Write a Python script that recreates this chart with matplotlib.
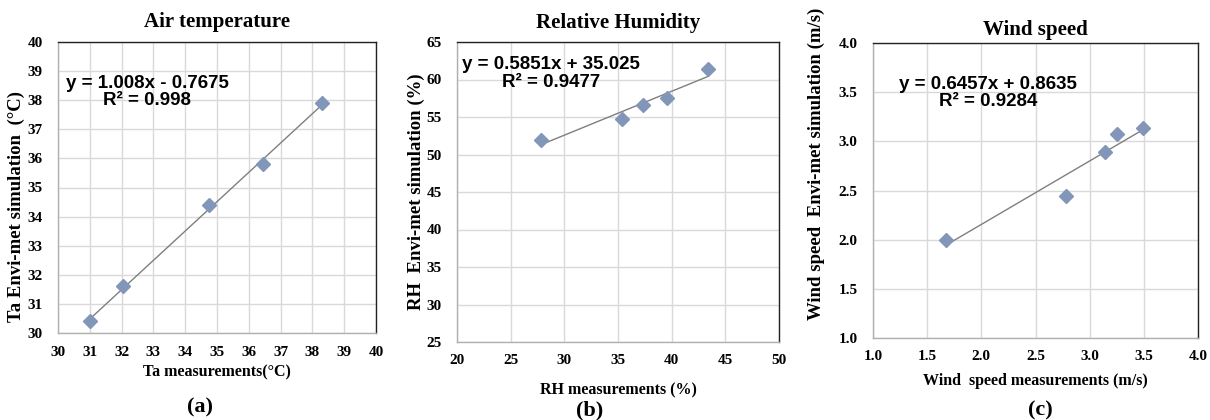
import numpy as np
import matplotlib
matplotlib.use("Agg")
import matplotlib.pyplot as plt


# ---------------------------------------------------------------------------
# Data
# ---------------------------------------------------------------------------

ta_meas = [31.0, 32.05, 34.75, 36.45, 38.3]
ta_sim = [30.4, 31.6, 34.4, 35.8, 37.9]
ta_fit = (1.008, -0.7675)

rh_meas = [27.8, 35.4, 37.3, 39.6, 43.4]
rh_sim = [51.9, 54.8, 56.6, 57.5, 61.4]
rh_fit = (0.5851, 35.025)

ws_meas = [1.67, 2.78, 3.14, 3.25, 3.49]
ws_sim = [2.0, 2.44, 2.89, 3.07, 3.14]
ws_fit = (0.6457, 0.8635)

W, H = 1210, 420
SERIF = "Liberation Serif"
SANS = "Liberation Sans"
MARKER_C = "#8196b9"
GRID_C = "#d9d9d9"


def _axes_px(fig, left, top, right, bottom):
    """Add axes from pixel box (top-left origin)."""
    return fig.add_axes([left / W, 1 - bottom / H, (right - left) / W, (bottom - top) / H])


def _panel(ax, xs, ys, fit, lims, ticks, fmt, title, xlabel, ylabel,
           eq_text, eq_pos, xlab_pad, ylab_xy, title_pad):
    ax.set_axisbelow(True)
    ax.grid(True, color=GRID_C, linewidth=1.0)
    slope, icpt = fit
    xf = np.array([min(xs), max(xs)])
    ax.plot(xf, slope * xf + icpt, color="#7f7f7f", linewidth=1.0, zorder=2)
    ax.plot(xs, ys, linestyle="none", marker="D", markersize=7,
            color=MARKER_C, markeredgecolor=MARKER_C, zorder=3)

    ax.set_xlim(lims[0])
    ax.set_ylim(lims[1])
    ax.set_xticks(ticks[0])
    ax.set_yticks(ticks[1])
    ax.set_xticklabels([fmt.format(t) for t in ticks[0]])
    ax.set_yticklabels([fmt.format(t) for t in ticks[1]])
    ax.tick_params(axis="x", length=0, pad=9)
    ax.tick_params(axis="y", length=0, pad=11)
    for lab in ax.get_xticklabels() + ax.get_yticklabels():
        lab.set_fontfamily(SERIF)
        lab.set_fontweight("bold")
        lab.set_fontsize(11)

    for side in ("top", "right"):
        ax.spines[side].set_color("#222222")
        ax.spines[side].set_linewidth(1.0)
    for side in ("left", "bottom"):
        ax.spines[side].set_color("#b0b0b0")
        ax.spines[side].set_linewidth(1.0)

    ax.set_title(title, fontfamily=SERIF, fontweight="bold", fontsize=15, pad=title_pad)
    ax.set_xlabel(xlabel, fontfamily=SERIF, fontweight="bold", fontsize=11.5, labelpad=xlab_pad)
    ax.set_ylabel(ylabel, fontfamily=SERIF, fontweight="bold", fontsize=13.5)
    ax.yaxis.set_label_coords(*ylab_xy)
    ax.text(eq_pos[0], eq_pos[1], eq_text, transform=ax.transAxes,
            ha="center", va="center", multialignment="center",
            fontfamily=SANS, fontweight="bold", fontsize=13.5, linespacing=1.05)


fig = plt.figure(figsize=(W / 100, H / 100), dpi=100)

ax_a = _axes_px(fig, 58, 42, 376, 333)
_panel(ax_a, ta_meas, ta_sim, ta_fit,
       ((30, 40), (30, 40)), (range(30, 41), range(30, 41)), "{:d}",
       "Air temperature", "Ta measurements(°C)", "Ta Envi-met simulation  (°C)",
       "y = 1.008x - 0.7675\nR² = 0.998", (0.281, 0.828), 4, (-0.104, 0.436), 11)

ax_b = _axes_px(fig, 457, 42, 779, 342)
_panel(ax_b, rh_meas, rh_sim, rh_fit,
       ((20, 50), (25, 65)), (range(20, 51, 5), range(25, 66, 5)), "{:d}",
       "Relative Humidity", "RH measurements (%)", "RH  Envi-met simulation (%)",
       "y = 0.5851x + 35.025\nR² = 0.9477", (0.292, 0.895), 11, (-0.099, 0.5), 10)

ax_c = _axes_px(fig, 873, 43, 1198, 338)
_panel(ax_c, ws_meas, ws_sim, ws_fit,
       ((1.0, 4.0), (1.0, 4.0)), (np.arange(1.0, 4.01, 0.5), np.arange(1.0, 4.01, 0.5)), "{:.1f}",
       "Wind speed", "Wind  speed measurements (m/s)", "Wind speed  Envi-met simulation (m/s)",
       "y = 0.6457x + 0.8635\nR² = 0.9284", (0.354, 0.831), 7, (-0.148, 0.59), 6)

for lab, xpx, ypx in (("(a)", 200, 407), ("(b)", 590, 410), ("(c)", 1040, 410)):
    fig.text(xpx / W, 1 - ypx / H, lab, ha="center", va="center",
             fontfamily=SERIF, fontweight="bold", fontsize=16)

fig.savefig("out.png", dpi=100)
